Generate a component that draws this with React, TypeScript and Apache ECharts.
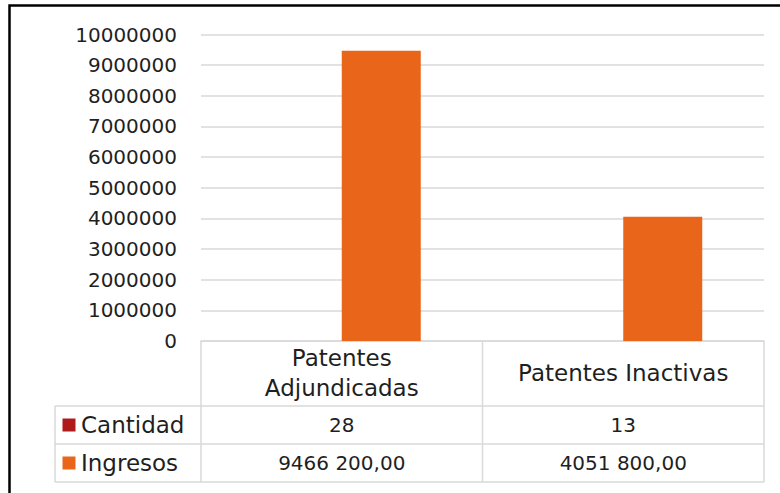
import React, { useEffect, useRef } from 'react';
import * as echarts from 'echarts';

const categories = ['Patentes Adjundicadas', 'Patentes Inactivas'];
const seriesNames = ['Cantidad', 'Ingresos'];
const cantidad = [28, 13];
const ingresos = [9466200, 4051800];
const yMin = 0;
const yMax = 10000000;
const yInterval = 1000000;
const seriesColors = ['#AF1A1A', '#E8651A'];

const FONT = 'DejaVu Sans';
const TEXT = '#1f1f1f';
const LINE = '#d9d9d9';
const NUM_SIZE = 20;
const WORD_SIZE = 23;

function fmtMoney(v: number): string {
  const [intPart, dec] = v.toFixed(2).split('.');
  const head = intPart.slice(0, -3);
  const tail = intPart.slice(-3);
  return (head ? head + ' ' : '') + tail + ',' + dec;
}

const tableRows = [
  { name: seriesNames[0], color: seriesColors[0], cells: cantidad.map((v) => String(v)) },
  { name: seriesNames[1], color: seriesColors[1], cells: ingresos.map(fmtMoney) },
];

export default function App() {
  const ref = useRef<HTMLDivElement>(null);
  useEffect(() => {
    if (!ref.current) return;
    const chart = echarts.init(ref.current, null, { renderer: 'svg' });
    const gridLeft = 201;
    const gridRight = 16;
    const gridTop = 34.5;
    const gridBottom = 152;
    const W = 780;
    const H = 493;
    chart.setOption({
      animation: false,
      grid: { left: gridLeft, right: gridRight, top: gridTop, bottom: gridBottom, containLabel: false },
      xAxis: {
        type: 'category',
        data: categories,
        axisLine: { show: true, lineStyle: { color: LINE, width: 1.5 } },
        axisTick: { show: false },
        axisLabel: {
          margin: 32,
          verticalAlign: 'middle',
          color: TEXT,
          fontSize: WORD_SIZE,
          fontFamily: FONT,
          lineHeight: 30,
          formatter: (v: string) => (v.length > 20 ? v.replace(' ', '\n') : v),
        },
      },
      yAxis: {
        type: 'value',
        min: yMin,
        max: yMax,
        interval: yInterval,
        axisLine: { show: false },
        axisTick: { show: false },
        splitLine: { lineStyle: { color: LINE, width: 1.5 } },
        axisLabel: {
          margin: 24,
          color: TEXT,
          fontSize: NUM_SIZE,
          fontFamily: FONT,
          formatter: (v: number) => String(v),
        },
      },
      series: [
        { name: seriesNames[0], type: 'bar', data: cantidad, barWidth: 79, barGap: '0%', itemStyle: { color: seriesColors[0] } },
        { name: seriesNames[1], type: 'bar', data: ingresos, barWidth: 79, barGap: '0%', itemStyle: { color: seriesColors[1] } },
      ],
    });

    const xs = categories.map((_, i) => chart.convertToPixel({ xAxisIndex: 0 }, i) as number);
    const gx0 = gridLeft;
    const gx1 = W - gridRight;
    const tableTop = H - gridBottom;
    const headerBottom = 406;
    const rowH = 38;
    const legendLeft = 55;
    const tableBottom = headerBottom + rowH * tableRows.length;
    const catW = (gx1 - gx0) / categories.length;

    const elements: any[] = [];
    elements.push({
      type: 'rect',
      shape: { x: 9.5, y: 5.5, width: 800, height: 520 },
      style: { fill: 'none', stroke: '#000', lineWidth: 2.5 },
      silent: true,
    });
    for (let i = 0; i <= categories.length; i++) {
      const x = gx0 + catW * i;
      elements.push({ type: 'line', shape: { x1: x, y1: tableTop, x2: x, y2: tableBottom }, style: { stroke: LINE, lineWidth: 1.5 } });
    }
    elements.push({ type: 'line', shape: { x1: legendLeft, y1: headerBottom, x2: legendLeft, y2: tableBottom }, style: { stroke: LINE, lineWidth: 1.5 } });
    for (let r = 0; r <= tableRows.length; r++) {
      const y = headerBottom + rowH * r;
      elements.push({ type: 'line', shape: { x1: legendLeft, y1: y, x2: gx1, y2: y }, style: { stroke: LINE, lineWidth: 1.5 } });
    }
    tableRows.forEach((row, r) => {
      const cy = headerBottom + rowH * r + rowH / 2;
      elements.push({ type: 'rect', shape: { x: 62.5, y: cy - 6.5, width: 13, height: 13 }, style: { fill: row.color } });
      elements.push({
        type: 'text',
        x: 81,
        y: cy,
        style: { text: row.name, fill: TEXT, fontSize: WORD_SIZE, fontFamily: FONT, align: 'left', verticalAlign: 'middle' },
      });
      row.cells.forEach((c, i) => {
        elements.push({
          type: 'text',
          x: xs[i],
          y: cy,
          style: { text: c, fill: TEXT, fontSize: NUM_SIZE, fontFamily: FONT, align: 'center', verticalAlign: 'middle' },
        });
      });
    });
    chart.setOption({ graphic: { elements } });
    return () => chart.dispose();
  }, []);
  return <div ref={ref} style={{ position: 'absolute', left: 0, top: 0, width: 780, height: 493, background: '#fff' }} />;
}
